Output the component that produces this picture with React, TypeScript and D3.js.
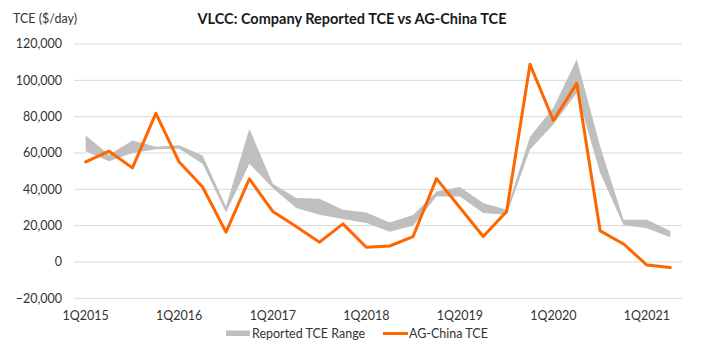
import React, { useRef, useEffect } from "react";
import * as d3 from "d3";

const quarters = [
  "1Q2015", "2Q2015", "3Q2015", "4Q2015",
  "1Q2016", "2Q2016", "3Q2016", "4Q2016",
  "1Q2017", "2Q2017", "3Q2017", "4Q2017",
  "1Q2018", "2Q2018", "3Q2018", "4Q2018",
  "1Q2019", "2Q2019", "3Q2019", "4Q2019",
  "1Q2020", "2Q2020", "3Q2020", "4Q2020",
  "1Q2021", "2Q2021",
];

// reported TCE range, $/day
const rangeHigh = [
  69600, 59000, 66900, 63400, 64300, 58600, 30600, 73300, 43100, 35200, 34800, 28700, 27200,
  21700, 25800, 38800, 41300, 32400, 28700, 68900, 84900, 111600, 63700, 23200, 23200, 17100,
];
const rangeLow = [
  61000, 55400, 60000, 62100, 62300, 54100, 27300, 54100, 40700, 29700, 26000, 23600, 21400,
  16700, 19900, 36100, 36100, 26900, 26000, 61900, 75700, 93200, 49000, 20400, 18600, 13600,
];

// AG-China TCE, $/day
const agChina = [
  55100, 61000, 51800, 81800, 55000, 41300, 16400, 45700, 27800, 19500, 10900, 21000, 8100,
  8800, 14000, 45900, 30000, 14000, 27800, 108800, 77900, 98300, 17100, 9900, -1700, -3100,
];

const yTicks = [-20000, 0, 20000, 40000, 60000, 80000, 100000, 120000];

export default function App() {
  const svgRef = useRef(null);
  const width = 706;
  const height = 353;

  useEffect(() => {
    const svg = d3.select(svgRef.current);
    svg.selectAll("*").remove();

    const font = "Lato, 'Noto Sans', sans-serif";
    const textColor = "#333333";
    const left = 74;
    const right = 682;
    const top = 44;
    const bottom = 298.3;

    const x = d3.scaleBand().domain(quarters).range([left, right]);
    const cx = (i: number) => x(quarters[i])! + x.bandwidth() / 2;
    const y = d3.scaleLinear().domain([-20000, 120000]).range([bottom, top]);

    // gridlines
    svg
      .append("g")
      .selectAll("line")
      .data(yTicks)
      .join("line")
      .attr("x1", left)
      .attr("x2", right)
      .attr("y1", (d) => y(d))
      .attr("y2", (d) => y(d))
      .attr("stroke", "#d9d9d9")
      .attr("stroke-width", 1);

    // y labels
    svg
      .append("g")
      .selectAll("text")
      .data(yTicks)
      .join("text")
      .attr("x", 62)
      .attr("y", (d) => y(d))
      .attr("dy", "0.35em")
      .attr("text-anchor", "end")
      .attr("font-family", font)
      .attr("font-size", 12.5)
      .attr("fill", textColor)
      .text((d) => d3.format(",")(d));

    // x labels, only first quarters
    svg
      .append("g")
      .selectAll("text")
      .data(quarters.filter((q) => q.startsWith("1Q")))
      .join("text")
      .attr("x", (d) => x(d)! + x.bandwidth() / 2)
      .attr("y", 316)
      .attr("dy", "0.35em")
      .attr("text-anchor", "middle")
      .attr("font-family", font)
      .attr("font-size", 12.5)
      .attr("fill", textColor)
      .text((d) => d);

    // range band
    const area = d3
      .area<number>()
      .x((_, i) => cx(i))
      .y0((_, i) => y(rangeLow[i]))
      .y1((_, i) => y(rangeHigh[i]));

    svg
      .append("path")
      .attr("d", area(rangeHigh))
      .attr("fill", "#bfbfbf");

    // AG-China line
    const line = d3
      .line<number>()
      .x((_, i) => cx(i))
      .y((d) => y(d));

    svg
      .append("path")
      .attr("d", line(agChina))
      .attr("fill", "none")
      .attr("stroke", "#ff6600")
      .attr("stroke-width", 3)
      .attr("stroke-linejoin", "round")
      .attr("stroke-linecap", "round");

    // title + axis unit
    svg
      .append("text")
      .attr("x", 352)
      .attr("y", 19)
      .attr("dy", "0.35em")
      .attr("text-anchor", "middle")
      .attr("font-family", font)
      .attr("font-weight", "bold")
      .attr("font-size", 14.5)
      .attr("fill", "#1a1a1a")
      .text("VLCC: Company Reported TCE vs AG-China TCE");

    svg
      .append("text")
      .attr("x", 13)
      .attr("y", 19)
      .attr("dy", "0.35em")
      .attr("font-family", font)
      .attr("font-size", 12.5)
      .attr("fill", textColor)
      .text("TCE ($/day)");

    // legend
    const legend = svg.append("g");
    legend
      .append("rect")
      .attr("x", 226)
      .attr("y", 330.5)
      .attr("width", 24)
      .attr("height", 5.5)
      .attr("fill", "#bfbfbf");
    legend
      .append("text")
      .attr("x", 252)
      .attr("y", 333.5)
      .attr("dy", "0.35em")
      .attr("font-family", font)
      .attr("font-size", 12.5)
      .attr("fill", textColor)
      .text("Reported TCE Range");
    legend
      .append("line")
      .attr("x1", 383)
      .attr("x2", 408)
      .attr("y1", 333.5)
      .attr("y2", 333.5)
      .attr("stroke", "#ff6600")
      .attr("stroke-width", 3);
    legend
      .append("text")
      .attr("x", 409)
      .attr("y", 333.5)
      .attr("dy", "0.35em")
      .attr("font-family", font)
      .attr("font-size", 12.5)
      .attr("fill", textColor)
      .text("AG-China TCE");
  }, []);

  return (
    <svg
      ref={svgRef}
      width={width}
      height={height}
      style={{ position: "absolute", left: 0, top: 0, background: "#fff" }}
    ></svg>
  );
}
